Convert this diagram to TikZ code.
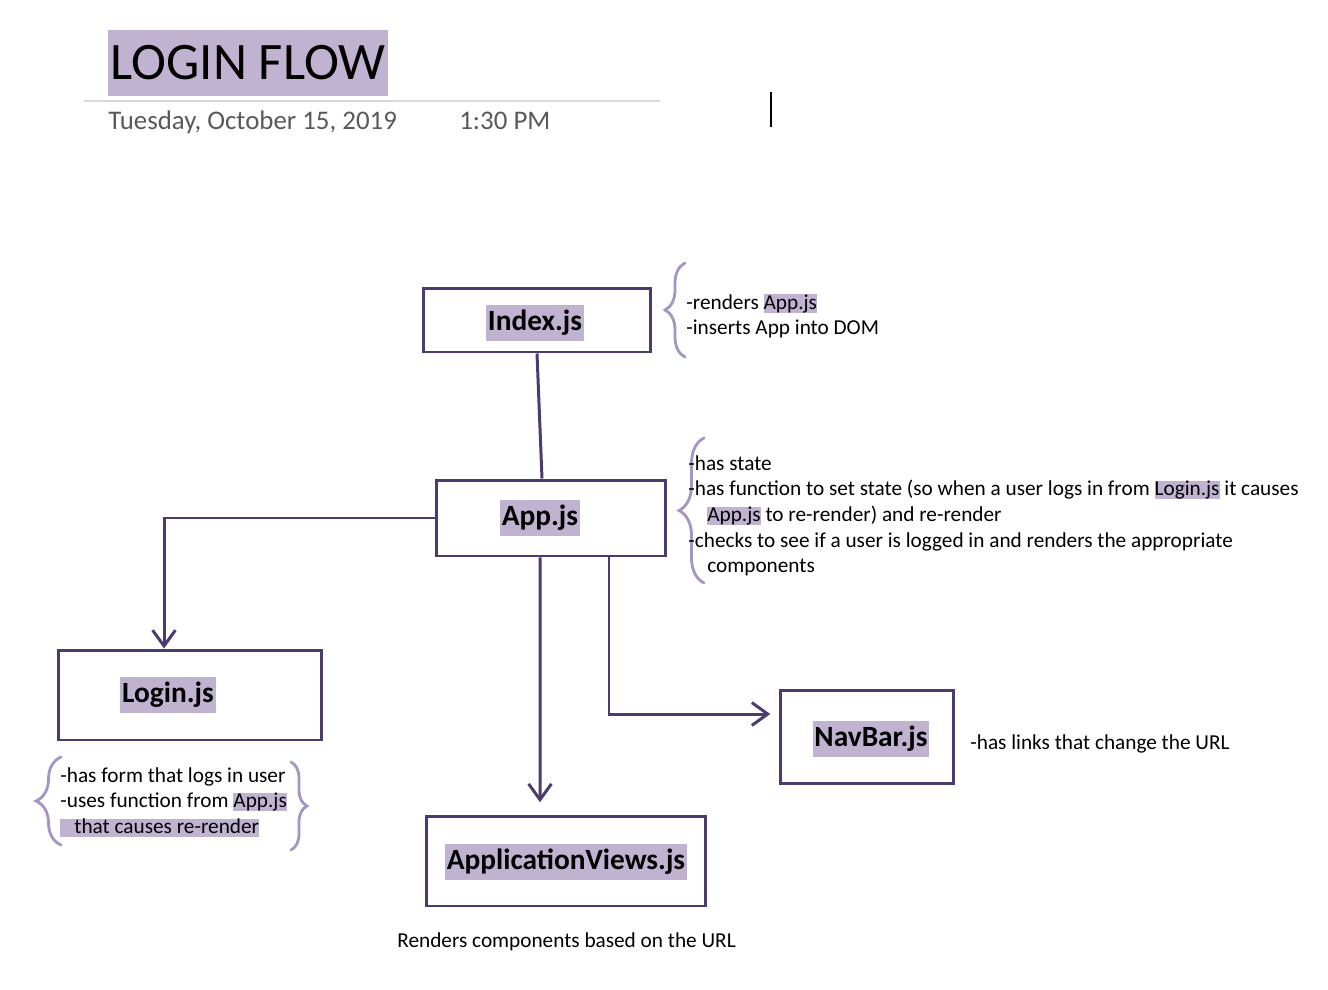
\documentclass[tikz,border=0pt]{standalone}
\usepackage{fontspec}
\setmainfont{Carlito}
\usetikzlibrary{arrows.meta,decorations.pathreplacing}

\definecolor{boxpurple}{HTML}{4B3B6E}
\definecolor{hlpurple}{HTML}{C0B3D1}
\definecolor{bracepurple}{HTML}{A594C4}
\definecolor{dategray}{HTML}{595959}
\definecolor{rulegray}{HTML}{D9D9D9}

\newcommand{\hlite}[1]{{\setlength{\fboxsep}{0pt}\colorbox{hlpurple}{\vphantom{Ap}#1}}}

\begin{document}
\begin{tikzpicture}[x=0.02cm, y=-0.02cm,
	box/.style={draw=boxpurple, line width=1.7pt, fill=white},
	tag/.style={fill=hlpurple, inner xsep=1pt, inner ysep=3pt, text height=11.5pt, text depth=3.5pt, font=\bfseries\fontsize{16.7}{19}\selectfont},
	note/.style={anchor=north west, inner sep=0pt, align=left, font=\fontsize{12.1}{14.6}\selectfont},
	conn/.style={draw=boxpurple, line width=1.7pt},
	arr/.style={conn, -{Straight Barb[length=9pt, width=13pt]}},
	curly/.style={draw=bracepurple, line width=1.6pt, line cap=round, decorate, decoration={brace, amplitude=#1}}]
	\useasboundingbox (0,0) rectangle (1328,990);

	% heading
	\node[fill=hlpurple, minimum height=1.32cm, inner xsep=1.5pt, font=\fontsize{30}{36}\selectfont] (title) at (248,63) {LOGIN FLOW};
	\draw[rulegray, line width=1.1pt] (84,101) -- (660,101);
	\node[anchor=base west, inner sep=0pt, text=dategray, font=\fontsize{15.3}{18}\selectfont] (date) at (108,130) {Tuesday, October 15, 2019};
	\node[anchor=base west, inner sep=0pt, text=dategray, font=\fontsize{15.3}{18}\selectfont] (time) at (459,130) {1:30 PM};
	\draw[line width=0.9pt] (771,92) -- (771,127);

	% boxes
	\node[box, minimum width=4.54cm, minimum height=1.28cm] (index) at (537,320) {};
	\node[box, minimum width=4.6cm, minimum height=1.52cm] (app) at (551,518) {};
	\node[box, minimum width=5.28cm, minimum height=1.8cm] (login) at (190,695) {};
	\node[box, minimum width=3.46cm, minimum height=1.86cm] (navbar) at (867,737) {};
	\node[box, minimum width=5.6cm, minimum height=1.8cm] (views) at (566,861) {};

	\node[tag] (indexlbl) at (535,323) {Index.js};
	\node[tag] (applbl) at (540,518) {App.js};
	\node[tag] (loginlbl) at (168,695) {Login.js};
	\node[tag] (navbarlbl) at (871,739) {NavBar.js};
	\node[tag] (viewslbl) at (566,862) {ApplicationViews.js};

	% connectors
	\draw[conn] (index.south) -- ([xshift=-0.18cm]app.north);
	\draw[arr] (app.west) -| ([xshift=-0.52cm]login.north);
	\draw[arr, shorten >=7pt] ([xshift=-0.22cm]app.south) -- ([xshift=-0.52cm]views.north);
	\draw[arr, shorten >=5pt] ([xshift=1.16cm]app.south) |- ([yshift=0.46cm]navbar.west);

	% braces
	\draw[curly=0.4cm] (685,357) -- (685,263);
	\draw[curly=0.5cm] (704,583) -- (704,438);
	\draw[curly=0.5cm] (61,845) -- (61,757);
	\draw[curly=0.32cm] (291,762) -- (291,850);

	% notes
	\node[note] (indexnote) at (686,294) {-renders \hlite{App.js}\\-inserts App into DOM};
	\node[note] (appnote) at (688,455) {-has state\\-has function to set state (so when a user logs in from \hlite{Login.js} it causes\\\hspace{10.8pt}\hlite{App.js} to re-render) and re-render\\-checks to see if a user is logged in and renders the appropriate\\\hspace{10.8pt}components};
	\node[note] (loginnote) at (60,767) {-has form that logs in user\\-uses function from \hlite{App.js}\\\hlite{\hspace{8pt}that causes re-render}};
	\node[anchor=base west, inner sep=0pt, font=\fontsize{12.1}{14.6}\selectfont] (navbarnote) at (970,749) {-has links that change the URL};
	\node[anchor=base west, inner sep=0pt, font=\fontsize{12.1}{14.6}\selectfont] (viewsnote) at (397,947) {Renders components based on the URL};
\end{tikzpicture}
\end{document}
